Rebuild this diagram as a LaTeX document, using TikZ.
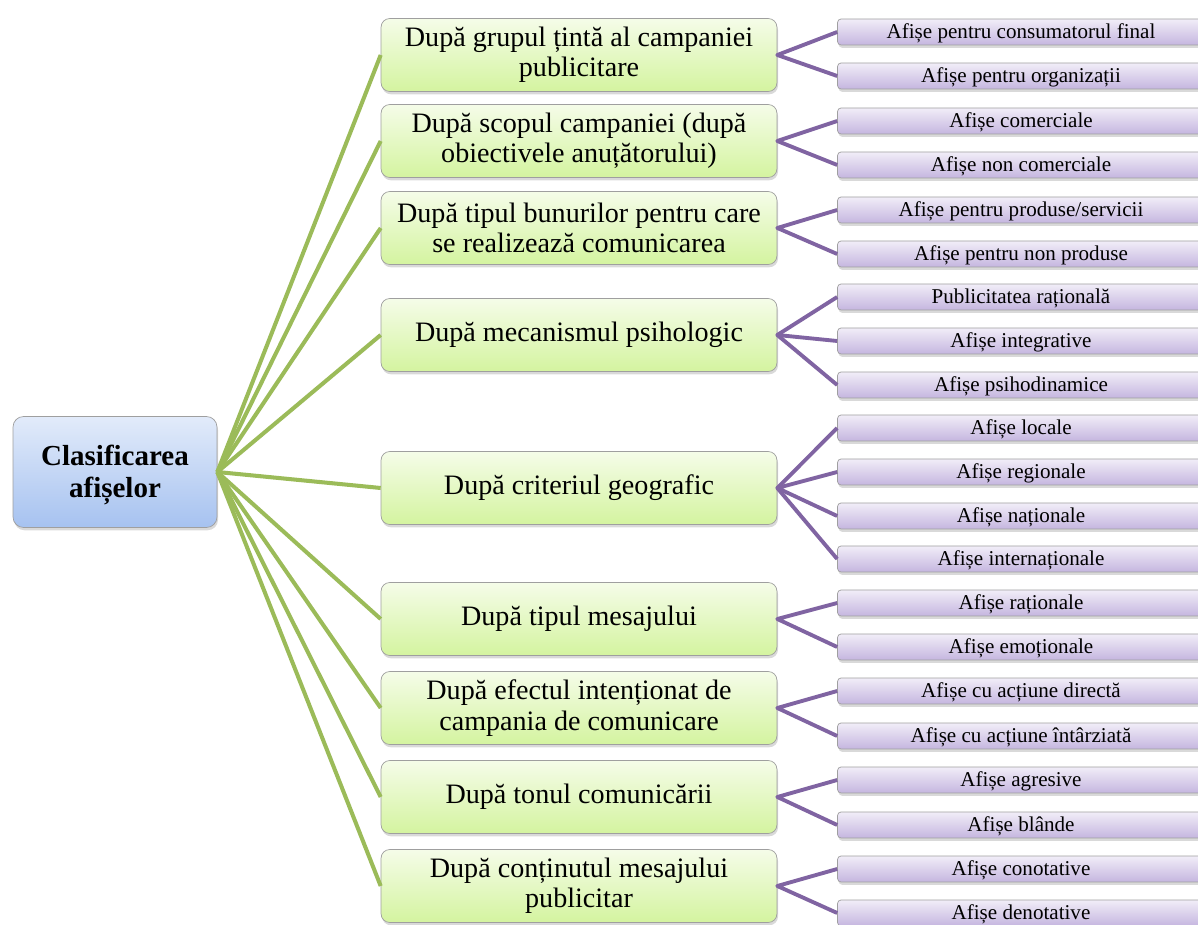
\documentclass[tikz,border=0pt]{standalone}
\usepackage{fontspec}
\setmainfont{Liberation Serif}
\usetikzlibrary{positioning, shadows}

\definecolor{rootTop}{HTML}{E2EBFA}
\definecolor{rootBot}{HTML}{A6C2F0}
\definecolor{midTop}{HTML}{F5FCE8}
\definecolor{midBot}{HTML}{D4F4A0}
\definecolor{leafTop}{HTML}{F1EDF8}
\definecolor{leafBot}{HTML}{C5B6DF}
\definecolor{greenLine}{HTML}{9BBB59}
\definecolor{purpleLine}{HTML}{8064A2}

\tikzset{
  boxshadow/.style={drop shadow={opacity=0.3, shadow xshift=0.6pt, shadow yshift=-1.6pt}},
  rootbox/.style={draw=gray!75, rounded corners=6pt, top color=rootTop, bottom color=rootBot,
    minimum width=4.08cm, minimum height=2.22cm, align=center,
    font=\fontsize{16.5}{17.8}\selectfont\bfseries, boxshadow},
  midbox/.style={draw=gray!75, rounded corners=5pt, top color=midTop, bottom color=midBot,
    minimum width=7.92cm, minimum height=1.46cm, align=center,
    font=\fontsize{16}{17.2}\selectfont, boxshadow},
  leafbox/.style={draw=gray!75, rounded corners=2pt, top color=leafTop, bottom color=leafBot,
    minimum width=7.34cm, minimum height=0.52cm, inner sep=1pt,
    text height=1.75ex, text depth=0.25ex,
    font=\fontsize{12}{13}\selectfont, boxshadow},
  greenline/.style={greenLine, line width=2.3pt},
  purpleline/.style={purpleLine, line width=2.2pt, line join=round},
}

\begin{document}
\begin{tikzpicture}[x=0.02cm, y=-0.02cm]
\useasboundingbox (0,0) rectangle (1198,925);

% root
\node[rootbox] (root) at (115,472) {\rule{0pt}{15pt}Clasificarea\\afișelor};

% criteria
\node[midbox] (mid1) at (579,55)  {După grupul țintă al campaniei\\publicitare};
\node[midbox] (mid2) at (579,141) {După scopul campaniei (după\\obiectivele anuțătorului)};
\node[midbox] (mid3) at (579,228) {După tipul bunurilor pentru care\\se realizează comunicarea};
\node[midbox] (mid4) at (579,335) {După mecanismul psihologic};
\node[midbox] (mid5) at (579,488) {După criteriul geografic};
\node[midbox] (mid6) at (579,619) {După tipul mesajului};
\node[midbox] (mid7) at (579,708) {După efectul intenționat de\\campania de comunicare};
\node[midbox] (mid8) at (579,797) {După tonul comunicării};
\node[midbox] (mid9) at (579,886) {După conținutul mesajului\\publicitar};

% poster types
\node[leafbox] (leaf1a) at (1021,32)  {Afișe pentru consumatorul final};
\node[leafbox] (leaf1b) at (1021,76)  {Afișe pentru organizații};
\node[leafbox] (leaf2a) at (1021,121) {Afișe comerciale};
\node[leafbox] (leaf2b) at (1021,165) {Afișe non comerciale};
\node[leafbox] (leaf3a) at (1021,210) {Afișe pentru produse/servicii};
\node[leafbox] (leaf3b) at (1021,254) {Afișe pentru non produse};
\node[leafbox] (leaf4a) at (1021,297) {Publicitatea rațională};
\node[leafbox] (leaf4b) at (1021,341) {Afișe integrative};
\node[leafbox] (leaf4c) at (1021,385) {Afișe psihodinamice};
\node[leafbox] (leaf5a) at (1021,428) {Afișe locale};
\node[leafbox] (leaf5b) at (1021,472) {Afișe regionale};
\node[leafbox] (leaf5c) at (1021,516) {Afișe naționale};
\node[leafbox] (leaf5d) at (1021,559) {Afișe internaționale};
\node[leafbox] (leaf6a) at (1021,603) {Afișe raționale};
\node[leafbox] (leaf6b) at (1021,647) {Afișe emoționale};
\node[leafbox] (leaf7a) at (1021,691) {Afișe cu acțiune directă};
\node[leafbox] (leaf7b) at (1021,736) {Afișe cu acțiune întârziată};
\node[leafbox] (leaf8a) at (1021,780) {Afișe agresive};
\node[leafbox] (leaf8b) at (1021,825) {Afișe blânde};
\node[leafbox] (leaf9a) at (1021,869) {Afișe conotative};
\node[leafbox] (leaf9b) at (1021,913) {Afișe denotative};

% green connectors
\draw[greenline] (root.east) -- (mid1.west);
\draw[greenline] (root.east) -- (mid2.west);
\draw[greenline] (root.east) -- (mid3.west);
\draw[greenline] (root.east) -- (mid4.west);
\draw[greenline] (root.east) -- (mid5.west);
\draw[greenline] (root.east) -- (mid6.west);
\draw[greenline] (root.east) -- (mid7.west);
\draw[greenline] (root.east) -- (mid8.west);
\draw[greenline] (root.east) -- (mid9.west);

% purple connectors
\draw[purpleline] (leaf1a.west) -- (mid1.east) -- (leaf1b.west);
\draw[purpleline] (leaf2a.west) -- (mid2.east) -- (leaf2b.west);
\draw[purpleline] (leaf3a.west) -- (mid3.east) -- (leaf3b.west);
\draw[purpleline] (leaf4a.west) -- (mid4.east) -- (leaf4c.west);
\draw[purpleline] (mid4.east) -- (leaf4b.west);
\draw[purpleline] (leaf5a.west) -- (mid5.east) -- (leaf5d.west);
\draw[purpleline] (leaf5b.west) -- (mid5.east) -- (leaf5c.west);
\draw[purpleline] (leaf6a.west) -- (mid6.east) -- (leaf6b.west);
\draw[purpleline] (leaf7a.west) -- (mid7.east) -- (leaf7b.west);
\draw[purpleline] (leaf8a.west) -- (mid8.east) -- (leaf8b.west);
\draw[purpleline] (leaf9a.west) -- (mid9.east) -- (leaf9b.west);
\end{tikzpicture}
\end{document}
